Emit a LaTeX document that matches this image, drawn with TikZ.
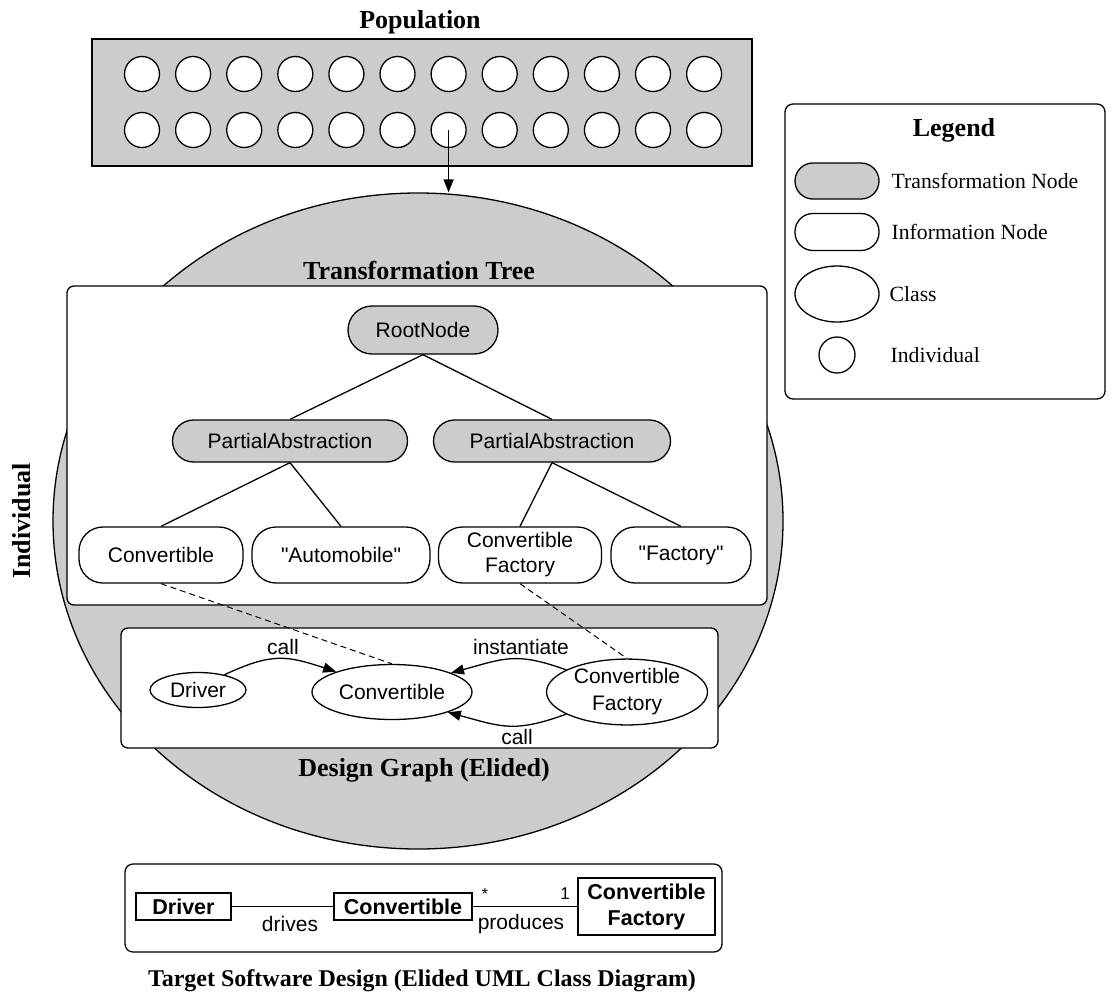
\documentclass[tikz,border=0pt]{standalone}
\usepackage{fontspec}
\setmainfont{Liberation Serif}
\newfontfamily\helv{Liberation Sans}
\usetikzlibrary{shapes.geometric,arrows.meta}
\definecolor{lgray}{HTML}{CCCCCC}
\begin{document}
\begin{tikzpicture}[x=1pt,y=-1pt,line width=1.3pt,
  ttl/.style={font=\fontsize{26}{30}\selectfont\bfseries, inner sep=0pt},
  sf/.style={font=\helv\fontsize{21}{25}\selectfont},
  sfb/.style={font=\helv\bfseries\fontsize{21.5}{26}\selectfont},
  lgt/.style={font=\fontsize{21.7}{26}\selectfont, inner sep=0pt, anchor=west},
  trn/.style={draw, fill=lgray, rounded corners=#1, inner sep=0pt, sf},
  trn/.default=21pt,
  inf/.style={draw, fill=white, rounded corners=#1, inner sep=0pt, sf, align=center},
  inf/.default=24pt,
  cls/.style={draw, fill=white, ellipse, inner sep=0pt, sf, align=center},
  indv/.style={draw, fill=white, circle, minimum size=35pt, inner sep=0pt},
  cbox/.style={draw, fill=white, rounded corners=7pt, inner sep=0pt},
  uml/.style={draw, fill=white, inner sep=0pt, sfb, align=center},
  arr/.style={-{Triangle[length=13pt,width=10pt]}},
  lbl/.style={sf, inner sep=0pt}
]
\useasboundingbox (0,0) rectangle (1116,994);

% Individual (big ellipse)
\node[draw, fill=lgray, ellipse, minimum width=730pt, minimum height=656pt, inner sep=0pt] (indiv) at (418,521) {};
\node[ttl, rotate=90] (indivlbl) at (22,521) {Individual};

% Population
\node[ttl] (poplbl) at (420,22) {Population};
\node[draw, fill=lgray, minimum width=660pt, minimum height=127pt, inner sep=0pt] (pop) at (422,102.5) {};
\foreach \i in {0,...,11} {
  \node[indv] (ca\i) at ({142+51.1*\i},74) {};
  \node[indv] (cb\i) at ({142+51.1*\i},130) {};
}
\draw[arr] (cb6.center) -- (cb6.center |- indiv.north);

% Transformation tree
\node[ttl] (ttlbl) at (419,270) {Transformation Tree};
\node[cbox, minimum width=700pt, minimum height=319pt] (tree) at (417,445.5) {};
\node[trn=24pt, minimum width=150pt, minimum height=48pt] (root) at (423,330) {RootNode};
\node[trn, minimum width=235pt, minimum height=42pt] (pal) at (290,441) {PartialAbstraction};
\node[trn, minimum width=237pt, minimum height=42pt] (par) at (552,441) {PartialAbstraction};
\node[inf, minimum width=164pt, minimum height=56pt] (tconv) at (161,555) {Convertible};
\node[inf, minimum width=178pt, minimum height=56pt] (tauto) at (341,555) {"Automobile"};
\node[inf, minimum width=163pt, minimum height=56pt] (tcf) at (520,555) {Convertible\\Factory};
\node[inf, minimum width=140pt, minimum height=56pt] (tfac) at (681,555) {"Factory"};
\draw (root.south) -- (pal.north);
\draw (root.south) -- (par.north);
\draw (pal.south) -- (tconv.north);
\draw (pal.south) -- (tauto.north);
\draw (par.south) -- (tcf.north);
\draw (par.south) -- (tfac.north);

% Design graph
\node[cbox, minimum width=597pt, minimum height=120pt] (dg) at (419.5,688) {};
\node[cls, minimum width=96pt, minimum height=35pt] (gdrv) at (198,690) {Driver};
\node[cls, minimum width=160pt, minimum height=55pt] (gconv) at (392,692) {Convertible};
\node[cls, minimum width=161pt, minimum height=60pt, font=\helv\fontsize{21}{27}\selectfont] (gcf) at (627,692) {Convertible\\Factory};
\draw[arr] (gdrv.30) to[out=25,in=162,looseness=1.2] (gconv.160);
\draw[arr] (gcf.160) to[out=160,in=15,looseness=1.2] (gconv.18);
\draw[arr] (gcf.200) to[out=200,in=-15,looseness=1.2] (gconv.-20);
\node[lbl] (l1) at (283,647) {call};
\node[lbl] (l2) at (521,647) {instantiate};
\node[lbl] (l3) at (517,737) {call};
\draw[dashed, line width=1pt, dash pattern=on 6pt off 4pt] (tconv.south) -- (gconv.north);
\draw[dashed, line width=1pt, dash pattern=on 6pt off 4pt] (tcf.south) -- (gcf.north);
\node[ttl] (dglbl) at (424,770) {Design Graph (Elided)};

% UML
\node[cbox, rounded corners=8pt, minimum width=597pt, minimum height=88pt] (umlbox) at (423.5,908) {};
\node[uml, minimum width=95pt, minimum height=27pt] (udrv) at (183.5,906.5) {Driver};
\node[uml, minimum width=138pt, minimum height=27pt] (uconv) at (403,906.5) {Convertible};
\node[uml, minimum width=137pt, minimum height=57pt] (ucf) at (646.5,906.5) {Convertible\\Factory};
\draw (udrv.east) -- (uconv.west);
\draw (uconv.east) -- (ucf.west);
\node[lbl] (ud) at (290,924) {drives};
\node[lbl] (up) at (521,924) {produces};
\node[lbl, font=\helv\fontsize{16}{18}\selectfont] (ustar) at (485,894) {*};
\node[lbl, font=\helv\fontsize{17}{20}\selectfont] (uone) at (565,894) {1};
\node[ttl, font=\fontsize{24}{28}\selectfont\bfseries] (umllbl) at (422,981) {Target Software Design (Elided UML Class Diagram)};

% Legend
\node[cbox, rounded corners=8pt, minimum width=320pt, minimum height=295pt] (leg) at (945,251.5) {};
\node[ttl] (legt) at (954,130) {Legend};
\node[trn=18pt, minimum width=84pt, minimum height=36pt] (lt) at (837,181) {};
\node[lgt] (ltl) at (891,181) {Transformation Node};
\node[inf=18pt, minimum width=84pt, minimum height=37pt] (li) at (837,232) {};
\node[lgt] (lil) at (891,232) {Information Node};
\node[cls, minimum width=84pt, minimum height=56pt] (lc) at (837,294) {};
\node[lgt] (lcl) at (889,294) {Class};
\node[indv, minimum size=36pt] (lv) at (837,355) {};
\node[lgt] (lvl) at (890,355) {Individual};
\end{tikzpicture}
\end{document}
